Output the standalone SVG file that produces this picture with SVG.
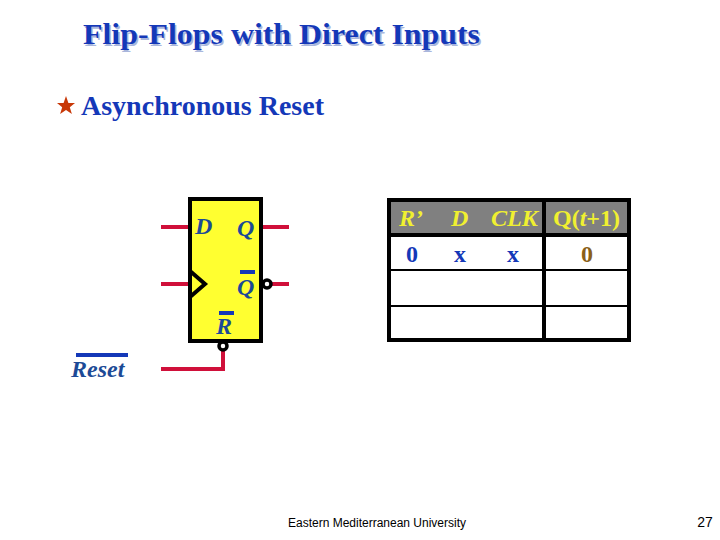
<svg xmlns="http://www.w3.org/2000/svg" width="720" height="540" viewBox="0 0 720 540">
<style>
.s{font-family:"Liberation Serif","Times New Roman",serif;fill:#1438b8}
.i{font-style:italic;font-weight:bold;font-size:24px;fill:#1c4a96}
.h{font-style:italic;font-weight:bold;font-size:24px;fill:#f0f030}
.w{stroke:#d0103a;stroke-width:4;fill:none}
.b{stroke:#000;stroke-width:3.5;fill:#fff}
.o{fill:#1438b8}
.t{stroke:#000;fill:none}
</style>
<rect width="720" height="540" fill="#fff"/>
<text class="s" x="83" y="44" font-size="30" font-weight="bold" textLength="397" lengthAdjust="spacingAndGlyphs" style="text-shadow:1.5px 1.5px 0 #a9b6dc">Flip-Flops with Direct Inputs</text>
<polygon points="66,96 68.400,103 75,103 69.800,107.300 71.900,114 66,110 60.100,114 62.200,107.300 57,103 63.600,103" fill="#c83808"/>
<text class="s" x="81" y="115" font-size="27" font-weight="bold" textLength="243" lengthAdjust="spacingAndGlyphs">Asynchronous Reset</text>
<g id="connectors">
<path class="w" d="M161 227H189"/>
<path class="w" d="M262 227H289"/>
<path class="w" d="M161 284H190"/>
<path class="w" d="M272 284H289"/>
<path class="w" d="M223 350V369H161"/>
</g>
<g id="flipflop">
<rect x="190" y="199" width="71" height="142" fill="#ffff30" stroke="#000" stroke-width="4"/>
<path d="M190 271L205 284L190 297" fill="none" stroke="#000" stroke-width="4"/>
<circle class="b" cx="267" cy="284" r="4"/>
<circle class="b" cx="223" cy="346" r="4"/>
<text class="s i" x="195" y="234">D</text>
<text class="s i" x="237" y="236">Q</text>
<rect x="240" y="270" width="15" height="4" class="o"/>
<text class="s i" x="237" y="295">Q</text>
<rect x="219" y="311" width="15" height="4" class="o"/>
<text class="s i" x="216" y="334">R</text>
</g>
<g id="reset-label">
<rect x="76" y="353" width="52" height="4" class="o"/>
<text class="s i" x="71" y="377">Reset</text>
</g>
<g id="table">
<rect x="389" y="200" width="240" height="35" fill="#808080"/>
<path class="t" stroke-width="4" d="M389 200H629V340H389Z"/>
<path class="t" stroke-width="4" d="M389 235H629"/>
<path class="t" stroke-width="4" d="M544 200V340"/>
<path class="t" stroke-width="2" d="M389 270H629M389 306H629"/>
<text class="s h" x="399" y="226">R’</text>
<text class="s h" x="451" y="226">D</text>
<text class="s h" x="491" y="226" textLength="47" lengthAdjust="spacingAndGlyphs">CLK</text>
<text class="s" x="553" y="226" font-size="24" font-weight="bold" textLength="67" lengthAdjust="spacingAndGlyphs" style="fill:#f0f030">Q(<tspan font-style="italic">t</tspan>+1)</text>
<text class="s" x="412" y="262" font-size="24" text-anchor="middle" font-weight="bold">0</text>
<text class="s" x="460" y="262" font-size="24" text-anchor="middle" font-weight="bold">x</text>
<text class="s" x="513" y="262" font-size="24" text-anchor="middle" font-weight="bold">x</text>
<text class="s" x="587" y="262" font-size="24" text-anchor="middle" font-weight="bold" style="fill:#8a6018">0</text>
</g>
<text x="377" y="527" font-family="Liberation Sans, Arial, sans-serif" font-size="12" text-anchor="middle" fill="#000">Eastern Mediterranean University</text>
<text x="705" y="527" font-family="Liberation Sans, Arial, sans-serif" font-size="14" text-anchor="middle" fill="#000">27</text>
</svg>
